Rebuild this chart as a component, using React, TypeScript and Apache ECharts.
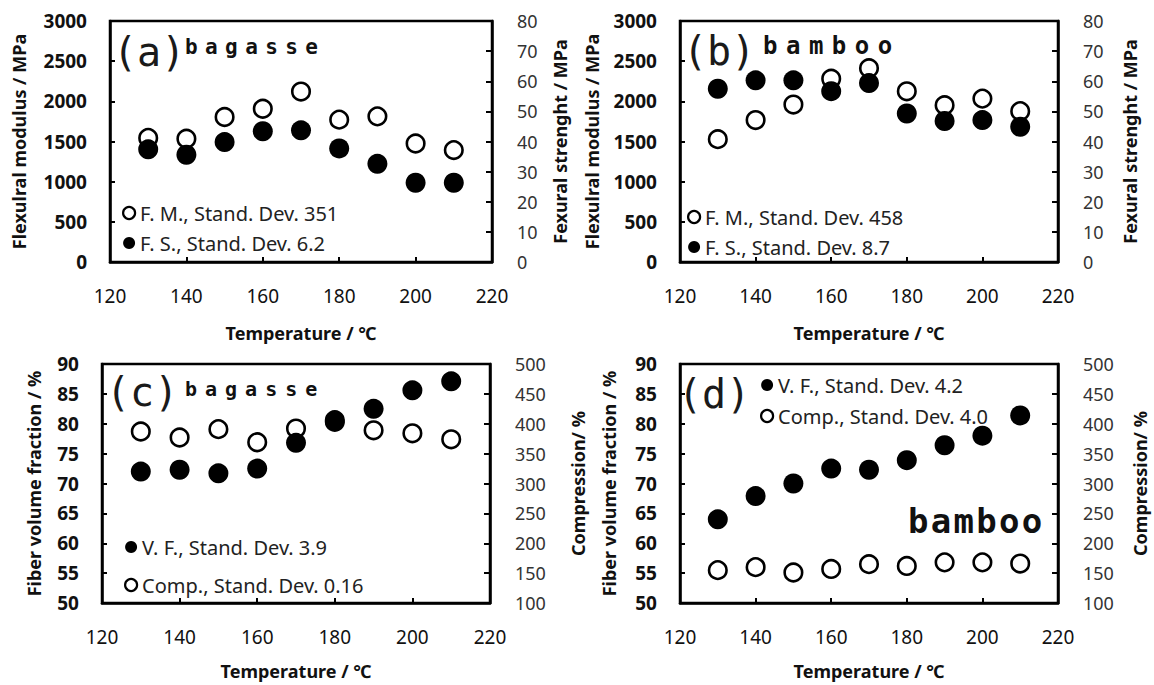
import React, { useEffect, useRef } from 'react';
import * as echarts from 'echarts';

// ---- data ----
const temperatures = [130, 140, 150, 160, 170, 180, 190, 200, 210];

// (a) bagasse
const bagasseFlexModulus = [1545, 1535, 1805, 1908, 2122, 1772, 1813, 1475, 1393];
const bagasseFlexStrength = [37.4, 35.6, 39.8, 43.4, 43.7, 37.7, 32.6, 26.3, 26.3];
// (b) bamboo
const bambooFlexModulus = [1529, 1767, 1960, 2281, 2412, 2125, 1952, 2034, 1878];
const bambooFlexStrength = [57.5, 60.3, 60.3, 56.7, 59.4, 49.3, 46.8, 47.1, 44.9];
// (c) bagasse
const bagasseVolumeFraction = [72.0, 72.3, 71.7, 72.5, 76.8, 80.3, 82.5, 85.6, 87.1];
const bagasseCompression = [387, 377, 391, 369, 392, 406, 389, 384, 374];
// (d) bamboo
const bambooVolumeFraction = [64.0, 67.9, 70.0, 72.5, 72.3, 73.9, 76.4, 78.0, 81.4];
const bambooCompression = [155, 160, 151, 157, 165, 162, 168, 168, 166];

const seriesNames = {
  aFM: 'F. M., Stand. Dev. 351',
  aFS: 'F. S., Stand. Dev. 6.2',
  bFM: 'F. M., Stand. Dev. 458',
  bFS: 'F. S., Stand. Dev. 8.7',
  cVF: 'V. F., Stand. Dev. 3.9',
  cCP: 'Comp., Stand. Dev. 0.16',
  dVF: 'V. F., Stand. Dev. 4.2',
  dCP: 'Comp., Stand. Dev. 4.0',
};

const xTitle = 'Temperature / ℃';
const modulusTitle = 'Flexulral modulus / MPa';
const strengthTitle = 'Fexural strenght / MPa';
const fractionTitle = 'Fiber volume fraction / %';
const compressionTitle = 'Compression/ %';

const FONT = '"Noto Sans", "Noto Sans CJK JP", sans-serif';
const MONO = '"DejaVu Sans Mono", monospace';

const pairs = (vals: number[]) => temperatures.map((t, i) => [t, vals[i]]);

const openStyle = { color: '#fff', borderColor: '#000', borderWidth: 2.6, opacity: 1 };
const filledStyle = { color: '#000', borderColor: '#000', borderWidth: 0, opacity: 1 };

const plain = (v: number) => String(v);

function xAxis(gridIndex: number, nameGap: number) {
  return {
    type: 'value',
    gridIndex,
    min: 120,
    max: 220,
    interval: 20,
    name: xTitle,
    nameLocation: 'middle',
    nameGap,
    nameTextStyle: { fontFamily: FONT, fontSize: 18, fontWeight: 'bold', color: '#111' },
    axisLine: { show: true, onZero: false, lineStyle: { color: '#000', width: 2.5 } },
    axisTick: { show: true, inside: true, length: 5, lineStyle: { color: '#000', width: 2 } },
    axisLabel: { fontFamily: FONT, fontSize: 19, color: '#111', margin: 24, formatter: plain },
    splitLine: { show: false },
  };
}

function leftAxis(gridIndex: number, min: number, max: number, interval: number, name: string, nameGap: number) {
  return {
    type: 'value',
    gridIndex,
    position: 'left',
    min,
    max,
    interval,
    name,
    nameLocation: 'middle',
    nameRotate: 90,
    nameGap,
    nameTextStyle: { fontFamily: FONT, fontSize: 18, fontWeight: 'bold', color: '#111' },
    axisLine: { show: true, onZero: false, lineStyle: { color: '#000', width: 2.5 } },
    axisTick: { show: true, inside: true, length: 5, lineStyle: { color: '#000', width: 2 } },
    axisLabel: { fontFamily: FONT, fontSize: 19, fontWeight: 'bold', color: '#111', margin: 23, formatter: plain },
    splitLine: { show: false },
  };
}

function rightAxis(gridIndex: number, min: number, max: number, interval: number, name: string, nameGap: number) {
  return {
    type: 'value',
    gridIndex,
    position: 'right',
    min,
    max,
    interval,
    name,
    nameLocation: 'middle',
    nameRotate: 90,
    nameGap,
    nameTextStyle: { fontFamily: FONT, fontSize: 18, fontWeight: 'bold', color: '#111' },
    axisLine: { show: true, onZero: false, lineStyle: { color: '#000', width: 2.5 } },
    axisTick: { show: true, inside: true, length: 6, lineStyle: { color: '#000', width: 2 } },
    axisLabel: { fontFamily: FONT, fontSize: 18, color: '#333', margin: 25, formatter: plain },
    splitLine: { show: false },
  };
}

function scatter(name: string, xi: number, yi: number, vals: number[], open: boolean) {
  return {
    type: 'scatter',
    name,
    xAxisIndex: xi,
    yAxisIndex: yi,
    data: pairs(vals),
    symbol: 'circle',
    symbolSize: open ? 17.5 : 20,
    itemStyle: open ? openStyle : filledStyle,
    z: open ? 2 : 3,
    silent: true,
  };
}

function legend(left: number, top: number, gap: number, items: { name: string; open: boolean }[]) {
  return {
    show: true,
    orient: 'vertical',
    left,
    top,
    padding: 0,
    itemGap: gap,
    itemWidth: 12,
    itemHeight: 12,
    selectedMode: false,
    textStyle: { fontFamily: FONT, fontSize: 20, color: '#222', lineHeight: 22 },
    data: items.map((it) => ({
      name: it.name,
      icon: 'circle',
      itemStyle: it.open
        ? { color: '#fff', borderColor: '#000', borderWidth: 2.2, opacity: 1 }
        : { color: '#000', borderColor: '#000', borderWidth: 0, opacity: 1 },
    })),
  };
}

// letter spacing by font size of the panel words
const tagSpacing: Record<string, number> = { '21': 7.4, '24': 8.5, '20': 8.0, '34': 2.3 };

function panelLetter(text: string, x: number, y: number) {
  return {
    type: 'text',
    x,
    y,
    silent: true,
    style: { text, fontFamily: MONO, fontSize: 40, fill: '#1a1a1a', align: 'left', verticalAlign: 'middle' },
  };
}

function panelWord(text: string, x: number, y: number, size: number) {
  return {
    type: 'text',
    x,
    y,
    silent: true,
    style: {
      text,
      fontFamily: MONO,
      fontWeight: 'bold',
      fontSize: size,
      fill: '#111',
      align: 'left',
      verticalAlign: 'middle',
    },
  };
}

export default function App() {
  const ref = useRef<HTMLDivElement>(null);

  useEffect(() => {
    if (!ref.current) return;
    const chart = echarts.init(ref.current, undefined, { renderer: 'svg' });

    const gridBase = { show: true, borderColor: '#000', borderWidth: 2.5, backgroundColor: 'transparent' };
    const option = {
      animation: false,
      backgroundColor: '#fff',
      grid: [
        { ...gridBase, left: 110, top: 21, width: 382, height: 241 },
        { ...gridBase, left: 680, top: 21, width: 378, height: 241 },
        { ...gridBase, left: 102, top: 364, width: 388, height: 239 },
        { ...gridBase, left: 680, top: 364, width: 378, height: 239 },
      ],
      xAxis: [xAxis(0, 62), xAxis(1, 62), xAxis(2, 59), xAxis(3, 59)],
      yAxis: [
        leftAxis(0, 0, 3000, 500, modulusTitle, 82),
        rightAxis(0, 0, 80, 10, strengthTitle, 59),
        leftAxis(1, 0, 3000, 500, modulusTitle, 79),
        rightAxis(1, 0, 80, 10, strengthTitle, 63),
        leftAxis(2, 50, 90, 5, fractionTitle, 59),
        rightAxis(2, 100, 500, 50, compressionTitle, 79),
        leftAxis(3, 50, 90, 5, fractionTitle, 62),
        rightAxis(3, 100, 500, 50, compressionTitle, 73),
      ],
      legend: [
        legend(122, 202, 8, [
          { name: seriesNames.aFM, open: true },
          { name: seriesNames.aFS, open: false },
        ]),
        legend(687, 206, 8, [
          { name: seriesNames.bFM, open: true },
          { name: seriesNames.bFS, open: false },
        ]),
        legend(124, 536, 16, [
          { name: seriesNames.cVF, open: false },
          { name: seriesNames.cCP, open: true },
        ]),
        legend(760, 374, 9, [
          { name: seriesNames.dVF, open: false },
          { name: seriesNames.dCP, open: true },
        ]),
      ],
      series: [
        scatter(seriesNames.aFM, 0, 0, bagasseFlexModulus, true),
        scatter(seriesNames.aFS, 0, 1, bagasseFlexStrength, false),
        scatter(seriesNames.bFM, 1, 2, bambooFlexModulus, true),
        scatter(seriesNames.bFS, 1, 3, bambooFlexStrength, false),
        scatter(seriesNames.cCP, 2, 5, bagasseCompression, true),
        scatter(seriesNames.cVF, 2, 4, bagasseVolumeFraction, false),
        scatter(seriesNames.dCP, 3, 7, bambooCompression, true),
        scatter(seriesNames.dVF, 3, 6, bambooVolumeFraction, false),
      ],
      graphic: [
        panelLetter('(a)', 113, 52),
        panelWord('bagasse', 185, 47, 21),
        panelLetter('(b)', 683, 51),
        panelWord('bamboo', 763, 46, 24),
        panelLetter('(c)', 106, 392),
        panelWord('bagasse', 185, 389, 20),
        panelLetter('(d)', 678, 394),
        panelWord('bamboo', 908, 521, 34),
      ],
    };

    chart.setOption(option as any);

    const applySpacing = () => {
      if (!ref.current) return;
      const texts = ref.current.querySelectorAll('text');
      texts.forEach((t) => {
        const s = t.textContent;
        if (s === 'bagasse' || s === 'bamboo') {
          const fs = Math.round(parseFloat(getComputedStyle(t).fontSize));
          const sp = tagSpacing[String(fs)];
          if (sp != null) t.setAttribute('letter-spacing', String(sp));
        }
      });
    };
    applySpacing();
    chart.on('finished', applySpacing);
    const timer = setTimeout(applySpacing, 50);

    return () => {
      clearTimeout(timer);
      chart.dispose();
    };
  }, []);

  return (
    <div
      ref={ref}
      style={{ position: 'absolute', left: 0, top: 0, width: 1154, height: 685, background: '#fff' }}
    />
  );
}
